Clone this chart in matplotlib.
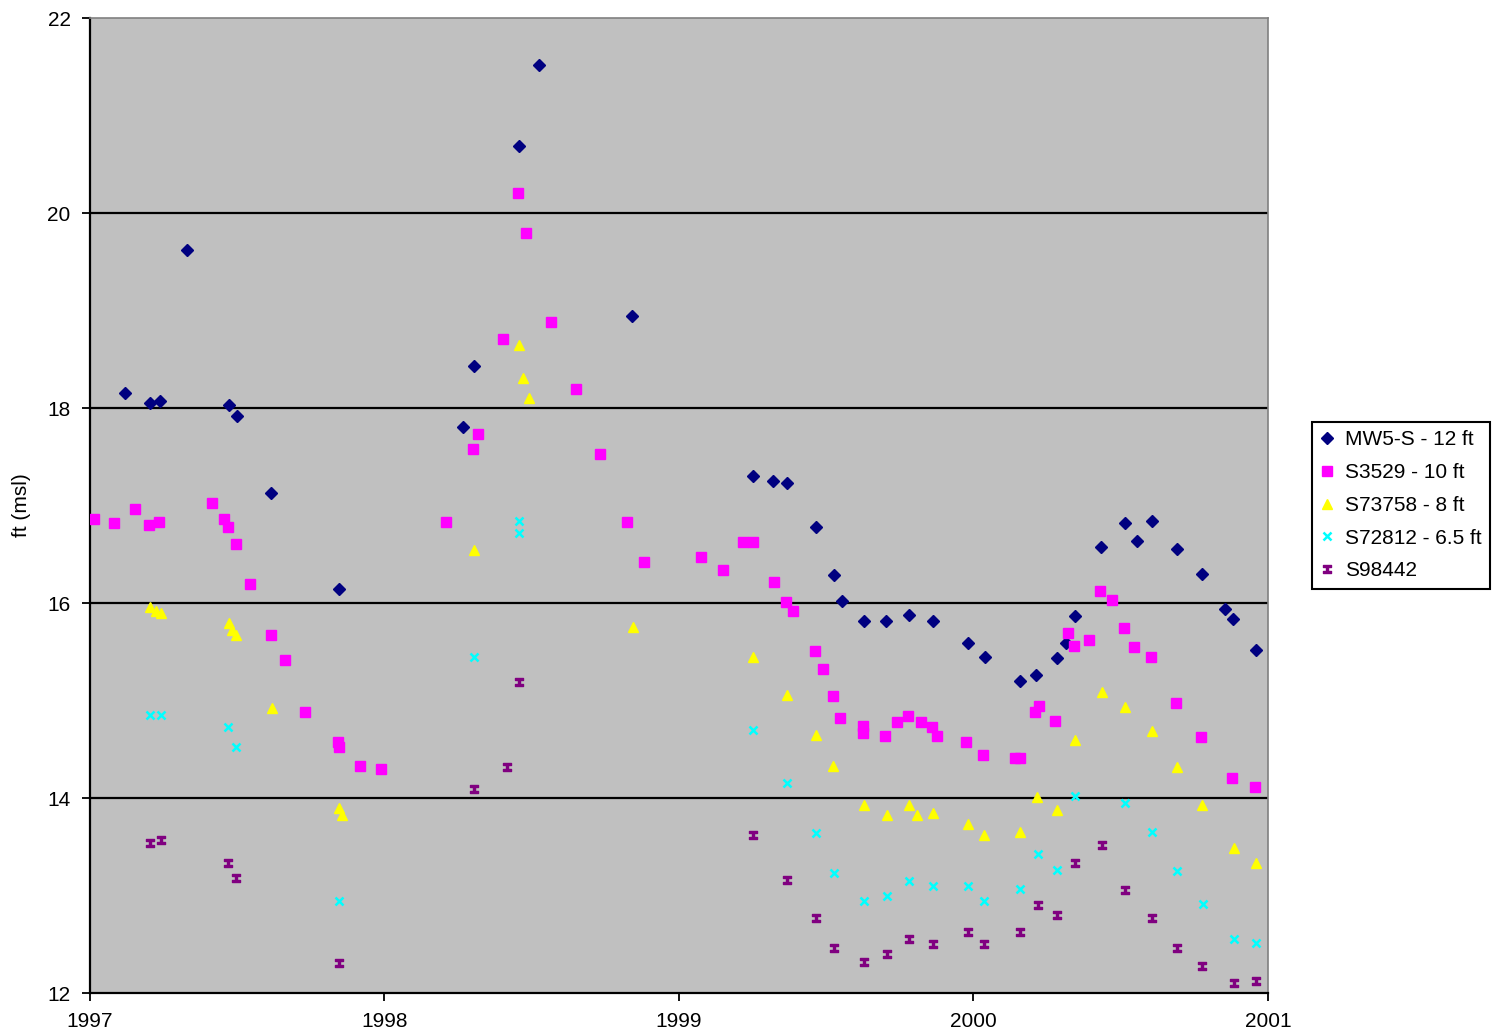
import matplotlib
matplotlib.use("Agg")
import matplotlib.pyplot as plt
from matplotlib.path import Path
from matplotlib import font_manager

# ---------------- data (decimal year, ft msl) ----------------
mw5_x = [1997.119, 1997.204, 1997.238, 1997.329, 1997.472, 1997.499, 1997.615, 1997.846,
         1998.267, 1998.304, 1998.457, 1998.525, 1998.840,
         1999.251, 1999.319, 1999.367, 1999.465, 1999.526, 1999.553, 1999.628, 1999.703,
         1999.781, 1999.862, 1999.981, 2000.039, 2000.158, 2000.212, 2000.284, 2000.314,
         2000.345, 2000.433, 2000.514, 2000.555, 2000.606, 2000.691, 2000.776, 2000.854,
         2000.881, 2000.959]
mw5_y = [18.15, 18.05, 18.07, 19.62, 18.03, 17.92, 17.13, 16.14,
         17.81, 18.43, 20.69, 21.52, 18.94,
         17.30, 17.25, 17.23, 16.78, 16.29, 16.02, 15.82, 15.82,
         15.88, 15.82, 15.59, 15.45, 15.20, 15.26, 15.44, 15.59,
         15.87, 16.57, 16.82, 16.64, 16.84, 16.55, 16.30, 15.94,
         15.84, 15.52]

s3529_x = [1997.014, 1997.081, 1997.153, 1997.200, 1997.234, 1997.414, 1997.455, 1997.469,
           1997.496, 1997.543, 1997.615, 1997.662, 1997.730, 1997.842, 1997.846, 1997.917,
           1997.988, 1998.209, 1998.301, 1998.318, 1998.402, 1998.453, 1998.481, 1998.565,
           1998.652, 1998.733, 1998.823, 1998.881, 1999.074, 1999.150, 1999.217, 1999.251,
           1999.321, 1999.363, 1999.387, 1999.462, 1999.489, 1999.523, 1999.547, 1999.625,
           1999.625, 1999.700, 1999.740, 1999.778, 1999.822, 1999.859, 1999.876, 1999.975,
           2000.032, 2000.141, 2000.158, 2000.209, 2000.222, 2000.277, 2000.321, 2000.341,
           2000.392, 2000.430, 2000.470, 2000.511, 2000.545, 2000.603, 2000.688, 2000.772,
           2000.878, 2000.956]
s3529_y = [16.86, 16.82, 16.96, 16.80, 16.83, 17.03, 16.86, 16.78,
           16.61, 16.19, 15.67, 15.42, 14.88, 14.57, 14.52, 14.33,
           14.30, 16.83, 17.58, 17.73, 18.71, 20.21, 19.79, 18.88,
           18.19, 17.53, 16.83, 16.42, 16.47, 16.34, 16.63, 16.63,
           16.22, 16.01, 15.92, 15.51, 15.32, 15.05, 14.82, 14.74,
           14.67, 14.64, 14.78, 14.84, 14.78, 14.73, 14.64, 14.57,
           14.44, 14.41, 14.41, 14.88, 14.94, 14.79, 15.69, 15.56,
           15.62, 16.12, 16.03, 15.74, 15.55, 15.45, 14.97, 14.63,
           14.21, 14.11]

s73758_x = [1997.204, 1997.224, 1997.241, 1997.472, 1997.482, 1997.496, 1997.618, 1997.846,
            1997.856, 1998.304, 1998.457, 1998.470, 1998.491, 1998.844,
            1999.251, 1999.367, 1999.465, 1999.523, 1999.628, 1999.706, 1999.781, 1999.808,
            1999.862, 1999.981, 2000.036, 2000.158, 2000.216, 2000.284, 2000.345, 2000.436,
            2000.514, 2000.606, 2000.691, 2000.776, 2000.885, 2000.959]
s73758_y = [15.96, 15.92, 15.90, 15.79, 15.72, 15.67, 14.92, 13.90,
            13.83, 16.54, 18.65, 18.31, 18.10, 15.75,
            15.45, 15.06, 14.65, 14.33, 13.93, 13.83, 13.93, 13.83,
            13.85, 13.73, 13.62, 13.65, 14.01, 13.88, 14.59, 15.09,
            14.93, 14.69, 14.32, 13.93, 13.49, 13.33]

s72812_x = [1997.204, 1997.241, 1997.469, 1997.496, 1997.846, 1998.304, 1998.457, 1998.457,
            1999.251, 1999.367, 1999.465, 1999.526, 1999.628, 1999.706, 1999.781, 1999.862,
            1999.981, 2000.036, 2000.158, 2000.219, 2000.284, 2000.345, 2000.514, 2000.606,
            2000.691, 2000.779, 2000.885, 2000.959]
s72812_y = [14.85, 14.85, 14.73, 14.52, 12.94, 15.45, 16.84, 16.72,
            14.70, 14.15, 13.64, 13.23, 12.94, 12.99, 13.15, 13.10,
            13.10, 12.94, 13.07, 13.43, 13.26, 14.02, 13.95, 13.65,
            13.25, 12.91, 12.55, 12.51]

s98442_x = [1997.204, 1997.241, 1997.469, 1997.496, 1997.846, 1998.304, 1998.416, 1998.457,
            1999.251, 1999.367, 1999.465, 1999.526, 1999.628, 1999.706, 1999.781, 1999.862,
            1999.981, 2000.036, 2000.158, 2000.219, 2000.284, 2000.345, 2000.436, 2000.514,
            2000.606, 2000.691, 2000.776, 2000.885, 2000.959]
s98442_y = [13.54, 13.57, 13.33, 13.18, 12.31, 14.09, 14.32, 15.19,
            13.62, 13.16, 12.77, 12.46, 12.32, 12.40, 12.55, 12.50,
            12.63, 12.50, 12.63, 12.90, 12.80, 13.33, 13.52, 13.06,
            12.77, 12.46, 12.28, 12.10, 12.12]

series_labels = ["MW5-S - 12 ft", "S3529 - 10 ft", "S73758 - 8 ft", "S72812 - 6.5 ft", "S98442"]
x_ticks = [1997, 1998, 1999, 2000, 2001]
x_tick_labels = ["1997", "1998", "1999", "2000", "2001"]
y_ticks = [12, 14, 16, 18, 20, 22]
y_label = "ft (msl)"

# ---------------- style ----------------
names = {f.name for f in font_manager.fontManager.ttflist}
fam = ["Liberation Sans Narrow", "DejaVu Sans"] if "Liberation Sans Narrow" in names else ["Liberation Sans", "DejaVu Sans"]
plt.rcParams["font.family"] = fam

ibeam = Path([(-1, 1), (1, 1), (1, 0.55), (0.35, 0.55), (0.35, -0.55), (1, -0.55), (1, -1),
              (-1, -1), (-1, -0.55), (-0.35, -0.55), (-0.35, 0.55), (-1, 0.55), (-1, 1)],
             closed=True)

fig = plt.figure(figsize=(15, 10.36), dpi=100)
ax = fig.add_axes([0.06, 0.0415, 0.7853, 0.9411])
ax.set_facecolor("#C0C0C0")

for yv in [14, 16, 18, 20]:
    ax.axhline(yv, color="black", lw=1.6, zorder=1)

ax.plot(mw5_x, mw5_y, ls="none", marker="D", ms=6.5, color="#000080", mec="#000080",
        label=series_labels[0], zorder=3)
ax.plot(s3529_x, s3529_y, ls="none", marker="s", ms=6.5, color="#FF00FF", mec="#FF00FF",
        label=series_labels[1], zorder=3)
ax.plot(s73758_x, s73758_y, ls="none", marker="^", ms=7.5, color="#FFFF00", mec="#FFFF00",
        label=series_labels[2], zorder=3)
ax.plot(s72812_x, s72812_y, ls="none", marker="x", ms=6, mew=1.8, color="#00FFFF",
        label=series_labels[3], zorder=3)
ax.plot(s98442_x, s98442_y, ls="none", marker=ibeam, ms=5.5, color="#800080", mec="#800080",
        label=series_labels[4], zorder=3)

ax.set_xlim(1997, 2001)
ax.set_ylim(12, 22)
ax.set_xticks(x_ticks)
ax.set_xticklabels(x_tick_labels)
ax.set_yticks(y_ticks)
ax.tick_params(axis="both", direction="out", length=6, width=1.3, colors="black",
               labelsize=15)
ax.tick_params(axis="x", pad=8)
ax.tick_params(axis="y", pad=8)
ax.set_ylabel(y_label, fontsize=15, labelpad=12)

for side in ["left", "bottom"]:
    ax.spines[side].set_color("black")
    ax.spines[side].set_linewidth(1.6)
for side in ["top", "right"]:
    ax.spines[side].set_color("#808080")
    ax.spines[side].set_linewidth(1.2)

leg = ax.legend(loc="upper left", bbox_to_anchor=(0.8747, 0.5927), bbox_transform=fig.transFigure,
                fontsize=15, frameon=True, fancybox=False, edgecolor="black", framealpha=1,
                handlelength=0.6, handletextpad=0.6, borderpad=0.4, labelspacing=0.66,
                borderaxespad=0)
leg.get_frame().set_linewidth(1.5)

fig.savefig("out.png", dpi=100, facecolor="white")
